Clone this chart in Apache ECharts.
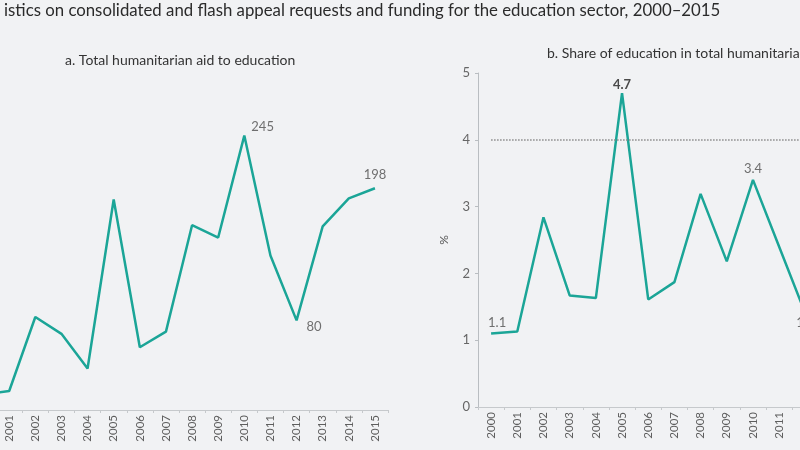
<!DOCTYPE html>
<html>
<head>
<meta charset="utf-8">
<script src="https://cdn.jsdelivr.net/npm/echarts@6/dist/echarts.min.js"></script>
<style>
html,body{margin:0;padding:0;background:#f1f2f4;}
#c{width:800px;height:450px;}
</style>
</head>
<body>
<div id="c"></div>
<script>
const years = ['2000','2001','2002','2003','2004','2005','2006','2007','2008','2009','2010','2011','2012','2013','2014','2015'];
const aidToEducation = [14, 17, 83, 68, 37, 188, 56, 70, 165, 154, 245, 138, 80, 164, 189, 198];
const shareOfEducation = [1.1, 1.13, 2.84, 1.67, 1.63, 4.7, 1.61, 1.87, 3.19, 2.18, 3.4, 2.4, 1.4, 1.9, 1.6, 1.9];
const shareTicks = [0, 1, 2, 3, 4, 5];
const targetShare = 4;

const mainTitle = 'istics on consolidated and flash appeal requests and funding for the education sector, 2000–2015';
const titleA = 'a. Total humanitarian aid to education';
const titleB = 'b. Share of education in total humanitarian aid';

const FONT = 'Lato';
const teal = '#1ba597';
const lblColor = '#6f6f6f';

const labelsA = {
  10: {position: 'right', offset: [2, -9]},
  12: {position: 'right', offset: [5, 6]},
  15: {position: 'top', distance: 7}
};
const labelsB = {
  0: {position: 'top', offset: [6, 0], distance: 4},
  5: {position: 'top', distance: 2, fontWeight: 'bold', color: '#4a4a4a'},
  10: {position: 'top', distance: 5},
  12: {position: 'bottom', distance: 3}
};
function build(values, labels) {
  return values.map((v, i) => {
    if (labels[i]) {
      return {value: v, label: Object.assign({show: true, color: lblColor, fontSize: 13, fontFamily: FONT}, labels[i])};
    }
    return v;
  });
}

const xAxisCommon = {
  type: 'category',
  data: years,
  boundaryGap: true,
  axisLine: {lineStyle: {color: '#c6c9cc', width: 1}},
  axisTick: {show: true, length: 3, lineStyle: {color: '#c6c9cc'}},
  axisLabel: {rotate: 90, color: '#5e5e5e', fontSize: 11.5, fontFamily: FONT, margin: 5}
};

const chart = echarts.init(document.getElementById('c'));
chart.setOption({
  backgroundColor: '#f1f2f4',
  animation: false,
  title: [
    {text: mainTitle, left: -1, top: -3, textStyle: {fontSize: 16.8, fontWeight: 'normal', color: '#2b2b2b', fontFamily: FONT}},
    {text: titleA, left: 60, top: 48, textStyle: {fontSize: 14, fontWeight: 'normal', color: '#333', fontFamily: FONT}},
    {text: titleB, left: 542, top: 41, textStyle: {fontSize: 14, fontWeight: 'normal', color: '#333', fontFamily: FONT}}
  ],
  grid: [
    {left: -30, width: 418, top: 74, bottom: 40, outerBoundsMode: 'none', containLabel: false},
    {left: 478, width: 419, top: 73, bottom: 43, outerBoundsMode: 'none', containLabel: false}
  ],
  xAxis: [
    Object.assign({gridIndex: 0}, xAxisCommon),
    Object.assign({gridIndex: 1}, xAxisCommon)
  ],
  yAxis: [
    {gridIndex: 0, type: 'value', min: 0, max: 300, show: false, splitLine: {show: false}},
    {gridIndex: 1, type: 'value', min: shareTicks[0], max: shareTicks[shareTicks.length - 1], interval: 1,
     name: '%', nameLocation: 'middle', nameGap: 28, nameTextStyle: {color: '#555', fontSize: 12, fontFamily: FONT},
     axisLine: {show: true, lineStyle: {color: '#b9bdc1'}},
     axisTick: {show: true, length: 3, lineStyle: {color: '#b9bdc1'}},
     axisLabel: {color: '#666', fontSize: 13, fontFamily: FONT, margin: 8},
     splitLine: {show: false}}
  ],
  series: [
    {type: 'line', xAxisIndex: 0, yAxisIndex: 0, data: build(aidToEducation, labelsA),
     symbol: 'circle', symbolSize: 0.01, showSymbol: true,
     lineStyle: {color: teal, width: 2.5}, itemStyle: {color: teal}},
    {type: 'line', xAxisIndex: 1, yAxisIndex: 1, data: build(shareOfEducation, labelsB),
     symbol: 'circle', symbolSize: 0.01, showSymbol: true,
     lineStyle: {color: teal, width: 2.5}, itemStyle: {color: teal},
     markLine: {silent: true, symbol: 'none', label: {show: false},
       lineStyle: {type: 'dotted', color: '#8a8a8a', width: 1.5},
       data: [[{coord: [years[0], targetShare]}, {coord: [years[years.length - 1], targetShare]}]]}}
  ]
});
</script>
</body>
</html>
